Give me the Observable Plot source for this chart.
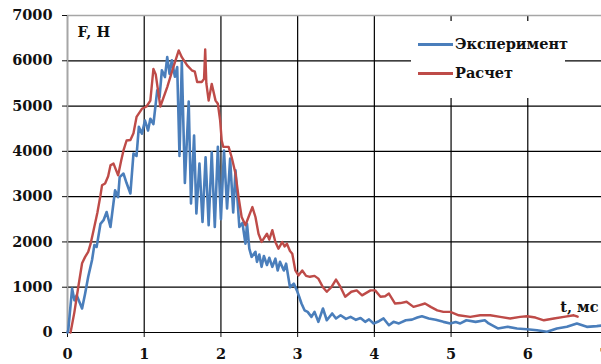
<!DOCTYPE html>
<html><head><meta charset="utf-8">
<script src="https://cdn.jsdelivr.net/npm/d3@7"></script>
<script src="https://cdn.jsdelivr.net/npm/@observablehq/plot@0.6"></script>
<style>
html,body{margin:0;padding:0;background:#fff;overflow:hidden;}
#wrap{position:relative;width:601px;height:364px;overflow:hidden;}
#wrap svg{display:block;}
#legend{position:absolute;left:411px;top:21px;width:154px;height:77px;background:#fff;font:bold 14.5px "DejaVu Serif";color:#111;}
.item{position:absolute;left:7px;height:18px;line-height:18px;display:flex;align-items:center;white-space:nowrap;}
.sw{width:35px;height:3px;margin-right:2px;}
</style></head><body><div id="wrap"></div>
<script>
// Эксперимент (blue)
const expT = [0.00,0.01,0.06,0.09,0.12,0.19,0.23,0.27,0.32,0.35,0.38,0.43,0.47,0.51,0.56,0.62,0.66,0.68,0.73,0.77,0.82,0.86,0.90,0.93,0.97,1.01,1.05,1.08,1.12,1.17,1.20,1.23,1.27,1.30,1.33,1.36,1.40,1.43,1.46,1.49,1.53,1.58,1.61,1.65,1.68,1.72,1.76,1.80,1.84,1.88,1.92,1.96,2.00,2.04,2.08,2.12,2.16,2.19,2.24,2.28,2.32,2.34,2.37,2.40,2.45,2.47,2.50,2.53,2.56,2.60,2.63,2.67,2.71,2.74,2.77,2.82,2.85,2.90,2.95,2.99,3.02,3.05,3.09,3.13,3.18,3.22,3.27,3.33,3.38,3.45,3.50,3.56,3.63,3.69,3.76,3.82,3.88,3.93,3.99,4.06,4.12,4.19,4.25,4.32,4.41,4.49,4.56,4.62,4.71,4.80,4.90,4.99,5.06,5.12,5.20,5.32,5.44,5.49,5.61,5.74,5.86,5.99,6.12,6.25,6.38,6.51,6.64,6.77,6.90,7.00];
const expF = [0,50,970,710,820,530,860,1230,1600,1930,1890,2400,2480,2660,2330,3140,2990,3430,3510,3300,3070,3950,3900,4540,4390,4680,4460,4720,4600,5350,5200,5790,5640,6080,5710,6010,5650,5860,3900,5970,3300,5100,2850,4350,2630,3730,2440,3870,2370,3980,2330,4100,2500,4020,2740,3840,2650,3580,2330,2420,1960,2400,1850,1670,1780,1560,1720,1450,1690,1490,1650,1450,1630,1370,1560,1370,1520,1000,1080,930,790,640,490,455,345,455,235,530,270,420,310,380,300,345,280,320,235,290,200,250,310,160,235,200,270,285,330,360,310,280,235,200,230,200,270,235,270,200,90,125,90,70,50,15,90,125,200,125,140,160];
// Расчет (red)
const calcT = [0.04,0.09,0.14,0.19,0.23,0.27,0.30,0.34,0.39,0.43,0.45,0.49,0.53,0.56,0.60,0.66,0.70,0.73,0.77,0.82,0.86,0.90,0.97,1.03,1.08,1.12,1.15,1.21,1.30,1.38,1.45,1.49,1.56,1.62,1.66,1.69,1.75,1.78,1.795,1.81,1.84,1.88,1.93,1.96,1.99,2.01,2.03,2.10,2.14,2.19,2.23,2.27,2.32,2.36,2.41,2.45,2.49,2.53,2.60,2.63,2.67,2.71,2.75,2.80,2.83,2.86,2.90,2.93,2.97,3.01,3.06,3.11,3.16,3.22,3.27,3.33,3.38,3.44,3.50,3.56,3.62,3.70,3.77,3.84,3.95,4.01,4.08,4.14,4.19,4.27,4.34,4.42,4.51,4.58,4.66,4.74,4.82,4.90,4.99,5.10,5.25,5.38,5.51,5.64,5.77,5.90,5.99,6.10,6.21,6.34,6.47,6.60,6.65];
const calcF = [0,450,1000,1530,1670,1780,1950,2260,2650,3030,3250,3290,3450,3690,3730,3470,3800,4020,4240,4250,4400,4760,4940,4990,5120,5820,5700,4990,5420,5860,6230,6080,5900,5790,5760,5530,5530,5600,6250,5500,5120,5490,5120,5050,4680,4240,4100,4100,3870,3510,2990,2550,2370,2550,2770,2550,2180,2000,2180,2050,2260,2000,1850,2000,1900,1960,1800,1740,1370,1260,1370,1250,1230,1250,1190,1000,900,1000,1170,1000,790,900,930,820,930,930,790,800,860,640,650,680,565,600,640,560,490,455,455,380,345,380,380,345,310,345,360,330,270,310,345,380,350];

const xTicks = [0,1,2,3,4,5,6,7];
const yTicks = [0,1000,2000,3000,4000,5000,6000,7000];
const seriesNames = ["Эксперимент","Расчет"];
const seriesColors = ["#4a7ebb","#be4b48"];
const yLabel = "F, H";
const xLabel = "t, мс";

const exp = expT.map((t,i)=>({t, F: expF[i]}));
const calc = calcT.map((t,i)=>({t, F: calcF[i]}));

const chart = Plot.plot({
  width: 601, height: 364,
  marginLeft: 67, marginRight: -3, marginTop: 15, marginBottom: 32,
  style: {fontFamily: "'DejaVu Serif'", fontSize: "14.5px", fontWeight: "bold", color: "#111", background: "#fff", overflow: "hidden"},
  x: {domain: [0,7]},
  y: {domain: [0,7000]},
  marks: [
    Plot.gridX(xTicks, {stroke: "#000", strokeOpacity: 1, strokeWidth: 1.2}),
    Plot.gridY(yTicks, {stroke: "#000", strokeOpacity: 1, strokeWidth: 1.2}),
    Plot.ruleX([0], {stroke: "#a6a6a6", strokeWidth: 1.6}),
    Plot.ruleY([7000], {stroke: "#a6a6a6", strokeWidth: 1.6}),
    Plot.axisX(xTicks, {tickSize: 5, tickPadding: 11, label: null, tickFormat: d => String(d)}),
    Plot.axisY(yTicks, {tickSize: 5, tickPadding: 10, label: null, tickFormat: d => String(d)}),
    Plot.line(exp, {x: "t", y: "F", stroke: seriesColors[0], strokeWidth: 2.6, strokeLinejoin: "round"}),
    Plot.line(calc, {x: "t", y: "F", stroke: seriesColors[1], strokeWidth: 2.4, strokeLinejoin: "round"}),
    Plot.text([yLabel], {text: d => d, frameAnchor: "top-left", dx: 10, dy: 17, textAnchor: "start", lineAnchor: "middle", fill: "#111"}),
    Plot.text([xLabel], {text: d => d, frameAnchor: "bottom-right", dx: -6, dy: -25, textAnchor: "end", lineAnchor: "middle", fill: "#111"})
  ]
});
const wrap = document.getElementById("wrap");
wrap.appendChild(chart);
const legend = document.createElement("div");
legend.id = "legend";
seriesNames.forEach((name, i) => {
  const item = document.createElement("div");
  item.className = "item";
  item.style.top = (14 + i * 29) + "px";
  const sw = document.createElement("span");
  sw.className = "sw";
  sw.style.background = seriesColors[i];
  const tx = document.createElement("span");
  tx.textContent = name;
  item.appendChild(sw); item.appendChild(tx);
  legend.appendChild(item);
});
wrap.appendChild(legend);
</script></body></html>
